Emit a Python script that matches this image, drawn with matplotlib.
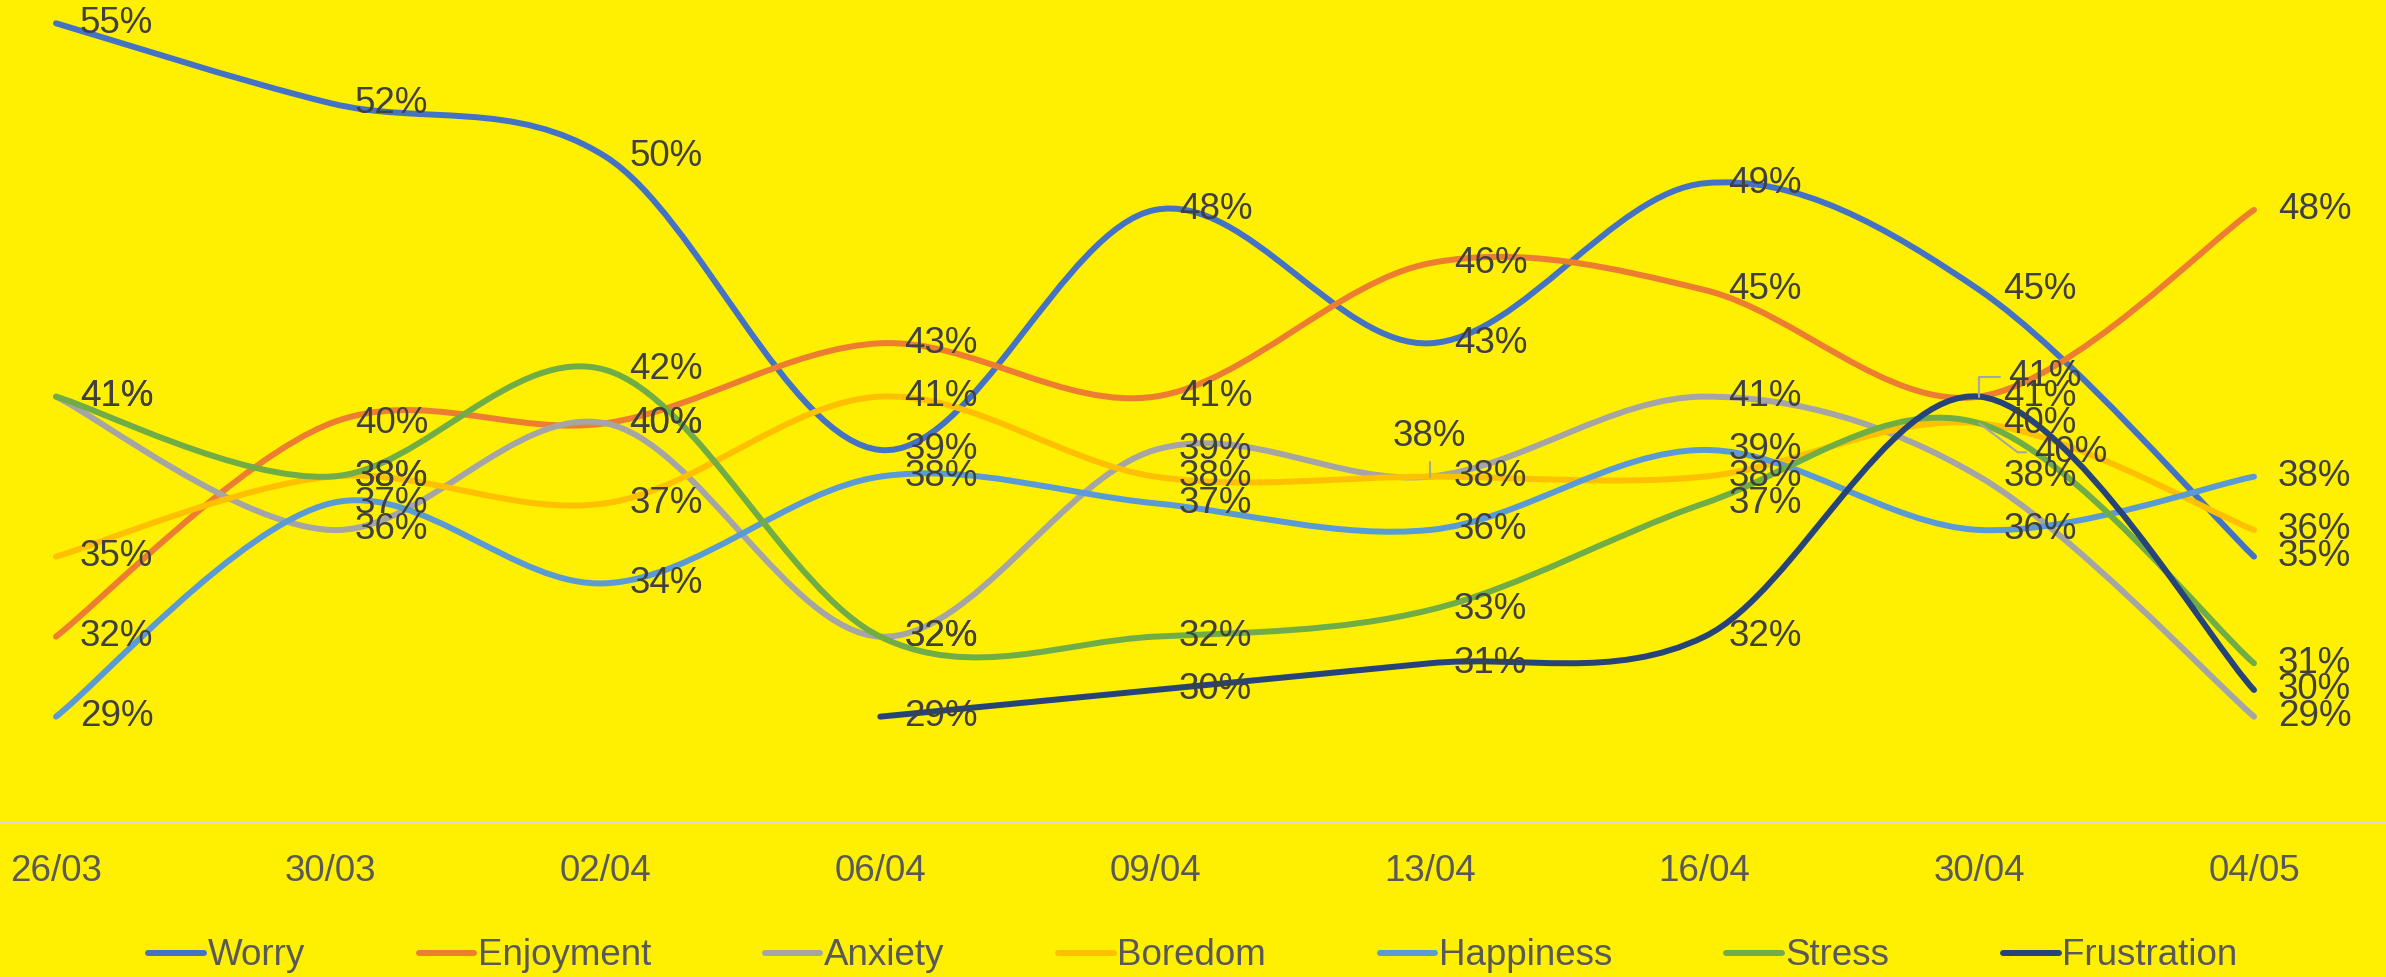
import matplotlib
matplotlib.use('Agg')
import numpy as np
import matplotlib.pyplot as plt
from matplotlib.path import Path
from matplotlib.patches import PathPatch
from matplotlib.lines import Line2D

plt.rcParams['font.family'] = ['Liberation Sans', 'DejaVu Sans']

dates = ['26/03', '30/03', '02/04', '06/04', '09/04', '13/04', '16/04', '30/04', '04/05']

worry = [55, 52, 50, 39, 48, 43, 49, 45, 35]
enjoyment = [32, 40, 40, 43, 41, 46, 45, 41, 48]
anxiety = [41, 36, 40, 32, 39, 38, 41, 38, 29]
boredom = [35, 38, 37, 41, 38, 38, 38, 40, 36]
happiness = [29, 37, 34, 38, 37, 36, 39, 36, 38]
stress = [41, 38, 42, 32, 32, 33, 37, 40, 31]
frustration = [None, None, None, 29, 30, 31, 32, 41, 30]

names = ['Worry', 'Enjoyment', 'Anxiety', 'Boredom', 'Happiness', 'Stress', 'Frustration']
series = [worry, enjoyment, anxiety, boredom, happiness, stress, frustration]
colors = ['#4472C4', '#ED7D31', '#A5A5A5', '#FFC000', '#5B9BD5', '#70AD47', '#264478']

bg = '#FFEF00'
label_color = '#404040'
axis_text = '#595959'
px = 72 / 100  # points per pixel at dpi 100


def smooth_path(xs, ys):
    # cubic bezier through the points, catmull-rom style tangents
    pts = np.column_stack([xs, ys]).astype(float)
    n = len(pts)
    verts = [pts[0]]
    codes = [Path.MOVETO]
    for i in range(n - 1):
        p0 = pts[max(i - 1, 0)]
        p1 = pts[i]
        p2 = pts[i + 1]
        p3 = pts[min(i + 2, n - 1)]
        c1 = p1 + (p2 - p0) / 6
        c2 = p2 - (p3 - p1) / 6
        verts += [c1, c2, p2]
        codes += [Path.CURVE4] * 3
    return Path(np.array(verts), codes)


fig = plt.figure(figsize=(23.86, 9.77), dpi=100, facecolor=bg)
ax = fig.add_axes([0, 0.1573, 1, 0.8189])
ax.patch.set_alpha(0)
ax.set_xlim(-0.2038, 8.4804)
ax.set_ylim(25, 55)

# labels pushed off their point with a leader line:
# (series, index) -> (dx px, dy px, align, leader angle at the point, leader start on text)
moved = {
    ('Anxiety', 5): (0, 40, 'center', 90, (0.5, 0.0)),
    ('Enjoyment', 7): (29, 20, 'left', 90, (0.0, 0.5)),
    ('Boredom', 7): (55, -29, 'left', -37, (0.0, 0.5)),
}

for name, vals, col in zip(names, series, colors):
    xs = [i for i, v in enumerate(vals) if v is not None]
    ys = [v for v in vals if v is not None]
    patch = PathPatch(smooth_path(xs, ys), fill=False, edgecolor=col, lw=4.3,
                      capstyle='round', joinstyle='round', clip_on=False, zorder=2)
    ax.add_patch(patch)
    for x, v in zip(xs, ys):
        if (name, x) in moved:
            dx, dy, ha, ang, rel = moved[(name, x)]
            ax.annotate(f'{v}%', (x, v), xytext=(dx * px, dy * px), textcoords='offset points',
                        ha=ha, va='center', fontsize=26.5, color=label_color, zorder=5,
                        arrowprops=dict(arrowstyle='-', color='#A6A6A6', lw=1.5,
                                        shrinkA=4, shrinkB=0, relpos=rel, zorder=4,
                                        connectionstyle=f'angle,angleA=0,angleB={ang},rad=0'))
        else:
            ax.annotate(f'{v}%', (x, v), xytext=(24 * px, 0), textcoords='offset points',
                        ha='left', va='center', fontsize=26.5, color=label_color, zorder=5)

for s in ['top', 'left', 'right']:
    ax.spines[s].set_visible(False)
ax.spines['bottom'].set_color('#D9D9D9')
ax.spines['bottom'].set_linewidth(2 * px)
ax.set_yticks([])
ax.set_xticks(range(len(dates)))
ax.set_xticklabels(dates, fontsize=26.5, color=axis_text)
ax.tick_params(axis='x', length=0, pad=22)

handles = [Line2D([], [], color=c, lw=4.3, solid_capstyle='round') for c in colors]
fig.legend(handles, names, loc='center', bbox_to_anchor=(0.5, 0.0215), ncol=7,
           frameon=False, fontsize=26.5, labelcolor=axis_text, handlelength=1.5,
           handletextpad=0.1, columnspacing=3.1)

fig.savefig('out.png', dpi=100, facecolor=bg)
